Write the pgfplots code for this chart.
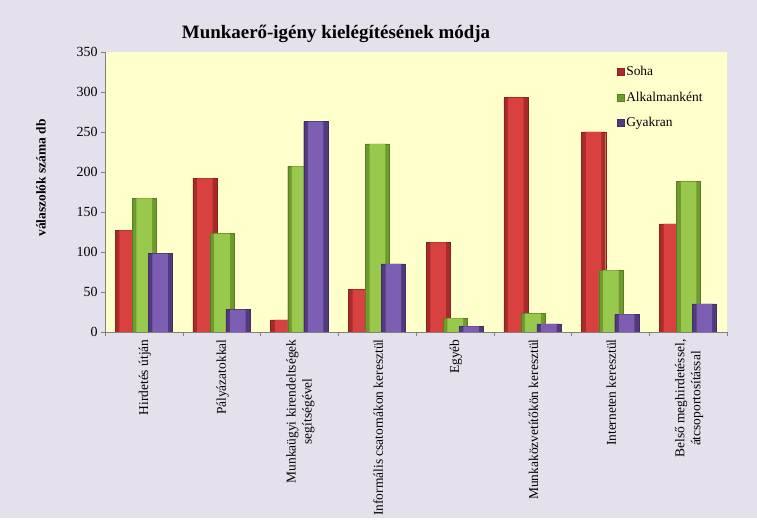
\documentclass[border=0pt]{standalone}
\usepackage{fontspec}
\setmainfont{Liberation Serif}
\usepackage{pgfplots}
\pgfplotsset{compat=1.18}
\definecolor{bgc}{HTML}{E5E1EC}
\definecolor{plotbg}{HTML}{FFFFCC}
\definecolor{rdark}{HTML}{A82A2A}
\definecolor{rmid}{HTML}{D94141}
\definecolor{gdark}{HTML}{6F9A2C}
\definecolor{gmid}{HTML}{98C84C}
\definecolor{pdark}{HTML}{523A7E}
\definecolor{pmid}{HTML}{7D5EB3}
\pgfplotsset{sqleg/.style={legend image code/.code={\path[##1] (0bp,-3.5bp) rectangle (7bp,3.5bp);}}}
\begin{document}
\begin{tikzpicture}[x=1bp,y=1bp]
\fill[bgc] (0,0) rectangle (757,518);
\node[font=\bfseries\fontsize{19}{22}\selectfont] at (336,484) {Munkaerő-igény kielégítésének módja};
\begin{axis}[
  at={(105bp,186bp)}, anchor=south west,
  scale only axis, width=622bp, height=280bp,
  xmin=-0.5, xmax=7.5, ymin=0, ymax=350,
  ytick={0,50,...,350},
  xtick={0,...,7},
  xticklabels={{Hirdetés útján},{Pályázatokkal},{Munkaügyi kirendeltségek\\segítségével},{Informális csatornákon keresztül},{Egyéb},{Munkaközvetítőkön keresztül},{Interneten keresztül},{Belső meghirdetéssel,\\átcsoportosítással}},
  minor xtick={-0.5,0.5,...,7.5},
  x tick style={draw=none},
  minor x tick style={draw=gray},
  minor tick length=4bp,
  major tick length=4bp,
  y tick style={draw=gray},
  tick align=outside,
  axis x line*=bottom, axis y line*=left,
  axis line style={-, draw=gray},
  axis background/.style={fill=plotbg},
  /pgf/number format/assume math mode=true,
  yticklabel style={font=\fontsize{14}{16}\selectfont},
  xticklabel style={rotate=90, anchor=east, align=center, font=\fontsize{13.5}{16}\selectfont, yshift=-1bp},
  ylabel={válaszolók száma db},
  ylabel style={at={(axis description cs:-0.103,0.55)}, anchor=center, font=\bfseries\fontsize{13.5}{15}\selectfont},
  legend style={draw=none, fill=none, at={(rel axis cs:0.818,0.965)}, anchor=north west, row sep=11bp, font=\fontsize{13.5}{15}\selectfont, legend cell align=left, /tikz/every even column/.append style={column sep=1bp}},
]
\addplot[ybar, bar width=0.31, bar shift=-0.215, draw=rdark!80!black, line width=0.3pt, fill=rdark, sqleg]
  coordinates {(0,127) (1,192) (2,15) (3,53) (4,112) (5,293) (6,250) (7,135)};
\addlegendentry{Soha}
\addplot[ybar, bar width=0.2, bar shift=-0.215, draw=none, fill=rmid, forget plot]
  coordinates {(0,127) (1,192) (2,15) (3,53) (4,112) (5,293) (6,250) (7,135)};
\addplot[ybar, bar width=0.31, bar shift=0.005, draw=gdark!80!black, line width=0.3pt, fill=gdark, sqleg]
  coordinates {(0,167) (1,123) (2,207) (3,235) (4,17) (5,23) (6,77) (7,188)};
\addlegendentry{Alkalmanként}
\addplot[ybar, bar width=0.2, bar shift=0.005, draw=none, fill=gmid, forget plot]
  coordinates {(0,167) (1,123) (2,207) (3,235) (4,17) (5,23) (6,77) (7,188)};
\addplot[ybar, bar width=0.31, bar shift=0.21, draw=pdark!80!black, line width=0.3pt, fill=pdark, sqleg]
  coordinates {(0,98) (1,28) (2,263) (3,85) (4,7) (5,10) (6,22) (7,35)};
\addlegendentry{Gyakran}
\addplot[ybar, bar width=0.2, bar shift=0.21, draw=none, fill=pmid, forget plot]
  coordinates {(0,98) (1,28) (2,263) (3,85) (4,7) (5,10) (6,22) (7,35)};
\end{axis}
\end{tikzpicture}
\end{document}
